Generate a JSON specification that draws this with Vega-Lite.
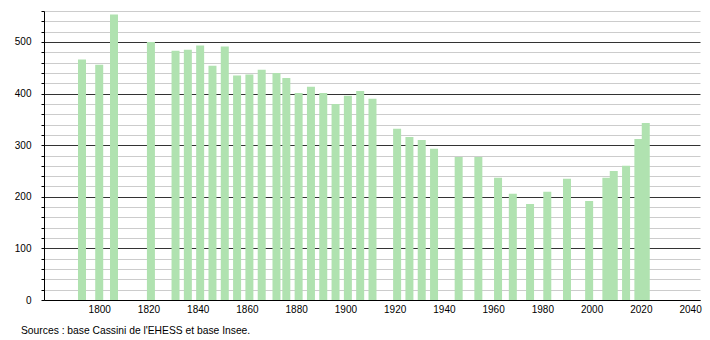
{
  "$schema": "https://vega.github.io/schema/vega-lite/v6.json",
  "width": 656,
  "height": 289,
  "autosize": {"type": "none"},
  "padding": {"left": 44, "top": 11, "right": 10, "bottom": 40},
  "background": "white",
  "config": {
    "view": {"stroke": null},
    "font": "Liberation Sans"
  },
  "title": {
    "text": "Sources : base Cassini de l'EHESS et base Insee.",
    "orient": "bottom",
    "anchor": "start",
    "frame": "group",
    "dx": -23,
    "offset": 12,
    "fontSize": 10.3,
    "fontWeight": "normal",
    "color": "#000"
  },
  "data": {
    "values": [
      {"year": 1793, "pop": 466},
      {"year": 1800, "pop": 456},
      {"year": 1806, "pop": 553},
      {"year": 1821, "pop": 500},
      {"year": 1831, "pop": 483},
      {"year": 1836, "pop": 485},
      {"year": 1841, "pop": 493},
      {"year": 1846, "pop": 454},
      {"year": 1851, "pop": 491},
      {"year": 1856, "pop": 435},
      {"year": 1861, "pop": 437},
      {"year": 1866, "pop": 446},
      {"year": 1872, "pop": 440},
      {"year": 1876, "pop": 430},
      {"year": 1881, "pop": 401},
      {"year": 1886, "pop": 413},
      {"year": 1891, "pop": 401},
      {"year": 1896, "pop": 380},
      {"year": 1901, "pop": 396},
      {"year": 1906, "pop": 405},
      {"year": 1911, "pop": 390},
      {"year": 1921, "pop": 332},
      {"year": 1926, "pop": 316},
      {"year": 1931, "pop": 310},
      {"year": 1936, "pop": 293},
      {"year": 1946, "pop": 277},
      {"year": 1954, "pop": 277},
      {"year": 1962, "pop": 237},
      {"year": 1968, "pop": 206},
      {"year": 1975, "pop": 186},
      {"year": 1982, "pop": 210},
      {"year": 1990, "pop": 235},
      {"year": 1999, "pop": 192},
      {"year": 2006, "pop": 237},
      {"year": 2009, "pop": 250},
      {"year": 2014, "pop": 260},
      {"year": 2019, "pop": 312},
      {"year": 2022, "pop": 343}
    ]
  },
  "mark": {"type": "bar", "size": 8, "color": "#b0e2b0"},
  "encoding": {
    "x": {
      "field": "year",
      "type": "quantitative",
      "scale": {"domain": [1779.6, 2042], "nice": false, "zero": false},
      "axis": {
        "title": null,
        "values": [1800, 1820, 1840, 1860, 1880, 1900, 1920, 1940, 1960, 1980, 2000, 2020, 2040],
        "format": "d",
        "grid": false,
        "ticks": false,
        "domainColor": "#000",
        "domainWidth": 1,
        "labelColor": "#000",
        "labelFontSize": 10,
        "labelPadding": 4,
        "labelFlush": false
      }
    },
    "y": {
      "field": "pop",
      "type": "quantitative",
      "scale": {"domain": [0, 560], "nice": false},
      "axis": {
        "title": null,
        "values": [0, 20, 40, 60, 80, 100, 120, 140, 160, 180, 200, 220, 240, 260, 280, 300, 320, 340, 360, 380, 400, 420, 440, 460, 480, 500, 520, 540, 560],
        "labelExpr": "datum.value % 100 === 0 ? datum.label : ''",
        "grid": true,
        "gridColor": {"condition": {"test": "datum.value % 100 === 0", "value": "#333333"}, "value": "#cccccc"},
        "gridWidth": 1,
        "tickColor": "#000",
        "tickSize": 3,
        "domainColor": "#000",
        "labelColor": "#000",
        "labelFontSize": 10,
        "labelPadding": 10,
        "labelFlush": false
      }
    }
  }
}
